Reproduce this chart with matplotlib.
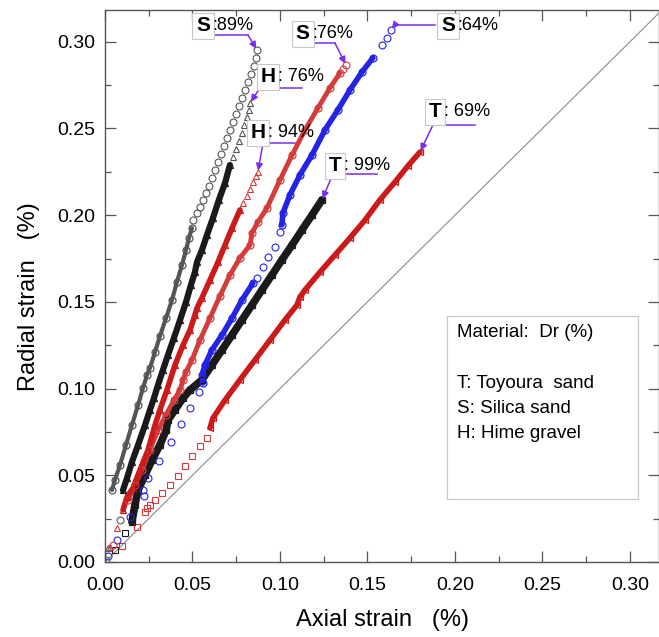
import numpy as np
import matplotlib
matplotlib.use('Agg')
from matplotlib import pyplot as plt
from matplotlib.patches import Rectangle

plt.rcParams['font.family'] = ['Liberation Sans', 'DejaVu Sans']

# ---- data (axial strain %, radial strain %) ----
# S: 89% (black circles)
s89_band_x = [0.0040, 0.0057, 0.0086, 0.0120, 0.0154, 0.0189, 0.0217, 0.0240, 0.0257, 0.0286,
              0.0314, 0.0349, 0.0383, 0.0411, 0.0440, 0.0463, 0.0480, 0.0497]
s89_band_y = [0.0415, 0.0473, 0.0559, 0.0675, 0.0790, 0.0905, 0.1003, 0.1078, 0.1119, 0.1211,
              0.1303, 0.1407, 0.1511, 0.1615, 0.1713, 0.1799, 0.1869, 0.1926]
s89_loose_x = [0.0006, 0.0086, 0.0503, 0.0526, 0.0543, 0.0560, 0.0577, 0.0594, 0.0611, 0.0629,
               0.0646, 0.0663, 0.0680, 0.0697, 0.0714, 0.0731, 0.0749, 0.0766, 0.0783, 0.0800,
               0.0817, 0.0834, 0.0851, 0.0863, 0.0869]
s89_loose_y = [0.0012, 0.0242, 0.1972, 0.2013, 0.2047, 0.2088, 0.2128, 0.2168, 0.2215, 0.2261,
               0.2307, 0.2353, 0.2399, 0.2445, 0.2491, 0.2537, 0.2584, 0.2630, 0.2676, 0.2722,
               0.2768, 0.2814, 0.2860, 0.2907, 0.2953]

# H: 76% (black triangles)
h76_band_x = [0.0103, 0.0126, 0.0154, 0.0189, 0.0229, 0.0257, 0.0280, 0.0303, 0.0331, 0.0360,
              0.0394, 0.0429, 0.0463, 0.0491, 0.0514, 0.0526, 0.0554, 0.0583, 0.0617, 0.0651,
              0.0686, 0.0714]
h76_band_y = [0.0415, 0.0484, 0.0577, 0.0675, 0.0790, 0.0877, 0.0946, 0.1021, 0.1107, 0.1194,
              0.1292, 0.1396, 0.1499, 0.1597, 0.1672, 0.1730, 0.1799, 0.1886, 0.1984, 0.2088,
              0.2186, 0.2289]
h76_loose_x = [0.0017, 0.0731, 0.0749, 0.0766, 0.0783, 0.0794, 0.0811, 0.0823, 0.0829]
h76_loose_y = [0.0081, 0.2336, 0.2382, 0.2428, 0.2474, 0.2520, 0.2566, 0.2607, 0.2647]

# H: 94% (red triangles)
h94_band_x = [0.0103, 0.0126, 0.0160, 0.0200, 0.0246, 0.0286, 0.0314, 0.0354, 0.0400, 0.0446,
              0.0486, 0.0514, 0.0526, 0.0554, 0.0600, 0.0646, 0.0686, 0.0726, 0.0771]
h94_band_y = [0.0300, 0.0375, 0.0427, 0.0531, 0.0646, 0.0790, 0.0877, 0.0992, 0.1136, 0.1251,
              0.1338, 0.1424, 0.1465, 0.1523, 0.1626, 0.1730, 0.1828, 0.1926, 0.2030]
h94_loose_x = [0.0029, 0.0069, 0.0789, 0.0811, 0.0829, 0.0846, 0.0863, 0.0874]
h94_loose_y = [0.0087, 0.0196, 0.2070, 0.2110, 0.2150, 0.2190, 0.2225, 0.2249]

# S: 76% (red circles)
s76_band_x = [0.0131, 0.0171, 0.0211, 0.0257, 0.0303, 0.0349, 0.0394, 0.0429, 0.0446, 0.0463,
              0.0497, 0.0543, 0.0600, 0.0657, 0.0714, 0.0771, 0.0829, 0.0840, 0.0874, 0.0926,
              0.1000, 0.1069, 0.1143, 0.1217, 0.1286, 0.1343]
s76_band_y = [0.0358, 0.0444, 0.0531, 0.0646, 0.0761, 0.0848, 0.0934, 0.0992, 0.1050, 0.1096,
              0.1165, 0.1280, 0.1407, 0.1534, 0.1655, 0.1753, 0.1828, 0.1897, 0.1961, 0.2042,
              0.2203, 0.2347, 0.2491, 0.2618, 0.2734, 0.2820]
s76_loose_x = [0.0046, 0.1360, 0.1377]
s76_loose_y = [0.0098, 0.2845, 0.2866]

# S: 64% (blue circles)
s64_band1_x = [0.0560, 0.0554, 0.0571, 0.0611, 0.0669, 0.0726, 0.0783, 0.0846]
s64_band1_y = [0.1032, 0.1078, 0.1136, 0.1223, 0.1309, 0.1407, 0.1511, 0.1609]
s64_band2_x = [0.1011, 0.1017, 0.1057, 0.1114, 0.1183, 0.1257, 0.1331, 0.1400, 0.1469, 0.1531]
s64_band2_y = [0.1944, 0.2013, 0.2117, 0.2232, 0.2347, 0.2491, 0.2607, 0.2722, 0.2826, 0.2907]
s64_loose_x = [0.0017, 0.0069, 0.0143, 0.0217, 0.0223, 0.0246, 0.0309, 0.0377, 0.0434, 0.0486,
               0.0537, 0.0869, 0.0903, 0.0931, 0.0971, 0.1000, 0.1583, 0.1611, 0.1634]
s64_loose_y = [0.0035, 0.0127, 0.0260, 0.0415, 0.0380, 0.0484, 0.0582, 0.0692, 0.0796, 0.0888,
               0.0980, 0.1638, 0.1701, 0.1759, 0.1817, 0.1903, 0.2982, 0.3022, 0.3068]

# T: 99% (black squares)
t99_band_x = [0.0154, 0.0171, 0.0189, 0.0229, 0.0269, 0.0314, 0.0349, 0.0360, 0.0400, 0.0446,
              0.0486, 0.0554, 0.0611, 0.0669, 0.0726, 0.0783, 0.0840, 0.0897, 0.0954, 0.1011,
              0.1069, 0.1126, 0.1183, 0.1240]
t99_band_y = [0.0231, 0.0329, 0.0415, 0.0502, 0.0588, 0.0675, 0.0761, 0.0819, 0.0877, 0.0946,
              0.0992, 0.1050, 0.1136, 0.1223, 0.1309, 0.1396, 0.1482, 0.1569, 0.1655, 0.1742,
              0.1828, 0.1915, 0.2001, 0.2088]
t99_loose_x = [0.0057, 0.0114]
t99_loose_y = [0.0069, 0.0167]

# T: 69% (red squares / left triangles)
t69_band_x = [0.0600, 0.0617, 0.0686, 0.0771, 0.0857, 0.0943, 0.1029, 0.1097, 0.1114, 0.1143,
              0.1229, 0.1314, 0.1400, 0.1486, 0.1571, 0.1657, 0.1731, 0.1800]
t69_band_y = [0.0773, 0.0830, 0.0934, 0.1050, 0.1165, 0.1280, 0.1396, 0.1482, 0.1528, 0.1569,
              0.1672, 0.1770, 0.1869, 0.1972, 0.2088, 0.2191, 0.2284, 0.2364]
t69_loose_x = [0.0097, 0.0183, 0.0229, 0.0240, 0.0257, 0.0286, 0.0326, 0.0371, 0.0417, 0.0457,
               0.0497, 0.0543, 0.0583]
t69_loose_y = [0.0092, 0.0202, 0.0288, 0.0310, 0.0329, 0.0358, 0.0398, 0.0444, 0.0496, 0.0554,
               0.0611, 0.0669, 0.0715]

x_ticks = [0.00, 0.05, 0.10, 0.15, 0.20, 0.25, 0.30]
y_ticks = [0.00, 0.05, 0.10, 0.15, 0.20, 0.25, 0.30]
legend_lines = ['Material:  Dr (%)', '', 'T: Toyoura  sand', 'S: Silica sand', 'H: Hime gravel']

fig = plt.figure(figsize=(6.59, 6.37), dpi=100)
ax = fig.add_axes([105/659, 75/637, 554/659, 552/637])

ax.plot([0, 0.33], [0, 0.33], color='#8a8a8a', lw=0.8, zorder=1)


def band(x, y, color, marker, lw=4.0, ms=5):
    ax.plot(x, y, color=color, lw=lw, solid_capstyle='round', zorder=2)
    ax.plot(x, y, ls='none', marker=marker, ms=ms, mfc='none', mec=color, mew=0.9, zorder=3)


def loose(x, y, color, marker, ms=5):
    ax.plot(x, y, ls='none', marker=marker, ms=ms, mfc='none', mec=color, mew=0.8, zorder=3)


black = '#1a1a1a'
grey = '#555555'
red = '#cc1a1a'
red2 = '#d43c3c'
blue = '#2424e6'

band(t69_band_x, t69_band_y, red, '<')
loose(t69_loose_x, t69_loose_y, red2, 's')
band(t99_band_x, t99_band_y, black, 's', lw=5.5)
loose(t99_loose_x, t99_loose_y, black, 's')
band(s64_band1_x, s64_band1_y, blue, 'o')
band(s64_band2_x, s64_band2_y, blue, 'o')
loose(s64_loose_x, s64_loose_y, blue, 'o')
band(s76_band_x, s76_band_y, red2, 'o', lw=3.5)
loose(s76_loose_x, s76_loose_y, red2, 'o')
band(h94_band_x, h94_band_y, red, '^')
loose(h94_loose_x, h94_loose_y, red2, '^')
band(h76_band_x, h76_band_y, black, '^', lw=4.5)
loose(h76_loose_x, h76_loose_y, grey, '^')
band(s89_band_x, s89_band_y, grey, 'o', lw=3.0)
loose(s89_loose_x, s89_loose_y, grey, 'o')

# labels: letter, text, letter pos, underline x-range, underline y, arrow start x, tip
purple = '#7a2cf0'
labels = [
    ('S', ':89%', (0.0560, 0.3091), (0.0629, 0.0817), 0.3039, 0.0817, (s89_loose_x[-1], s89_loose_y[-1])),
    ('S', ':76%', (0.1131, 0.3045), (0.1189, 0.1314), 0.2993, 0.1314, (s76_loose_x[-1], s76_loose_y[-1])),
    ('H', ': 76%', (0.0931, 0.2797), (0.0886, 0.1126), 0.2734, 0.0886, (h76_loose_x[-1], h76_loose_y[-1])),
    ('H', ': 94%', (0.0874, 0.2474), (0.0914, 0.1086), 0.2416, 0.0903, (h94_loose_x[-1], h94_loose_y[-1])),
    ('T', ': 99%', (0.1314, 0.2284), (0.1360, 0.1554), 0.2238, 0.1303, (t99_band_x[-1], t99_band_y[-1])),
    ('S', ':64%', (0.1960, 0.3091), (0.1657, 0.1886), 0.3097, 0.1657, (s64_loose_x[-1], s64_loose_y[-1])),
    ('T', ': 69%', (0.1886, 0.2595), (0.1874, 0.2114), 0.2520, 0.1874, (t69_band_x[-1], t69_band_y[-1])),
]
for letter, txt, lpos, (u0, u1), uy, sx, tip in labels:
    t = ax.text(lpos[0], lpos[1], letter, fontsize=15, fontweight='bold', ha='center', va='center',
                zorder=6, bbox=dict(boxstyle='square,pad=0.18', fc='white', ec='#c8c8c8', lw=0.8))
    ax.annotate(txt, xy=(1, 0.5), xycoords=t, xytext=(2, 0), textcoords='offset points',
                fontsize=13, ha='left', va='center', zorder=6)
    ax.plot([u0, u1], [uy, uy], color=purple, lw=1.1, zorder=5)
    ax.annotate('', xy=tip, xytext=(sx, uy), zorder=5,
                arrowprops=dict(arrowstyle='-|>', color=purple, lw=1.1, mutation_scale=10,
                                shrinkA=0, shrinkB=1))

# material box
ax.add_patch(Rectangle((0.617, 0.114), 0.345, 0.332, transform=ax.transAxes,
                       fc='white', ec='#c8c8c8', lw=0.9, zorder=6))
for i, line in enumerate(legend_lines):
    ax.text(0.635, 0.415 - i * 0.0455, line, transform=ax.transAxes, fontsize=13.5,
            ha='left', va='center', zorder=7)

ax.set_xlim(0, 0.3166)
ax.set_ylim(0, 0.3183)
ax.set_xticks(x_ticks)
ax.set_yticks(y_ticks)
ax.set_xticklabels(['%.2f' % v for v in x_ticks])
ax.set_yticklabels(['%.2f' % v for v in y_ticks])
ax.set_xticks(np.arange(0.025, 0.32, 0.05), minor=True)
ax.set_yticks(np.arange(0.025, 0.32, 0.05), minor=True)
ax.tick_params(which='both', direction='in', top=True, right=True, colors='#555555',
               labelcolor='black', labelsize=14)
ax.tick_params(which='major', length=8, width=0.9)
ax.tick_params(which='minor', length=4, width=0.9)
ax.tick_params(axis='x', pad=11)
ax.tick_params(axis='y', pad=7)
for s in ax.spines.values():
    s.set_color('#555555')
    s.set_linewidth(1.0)

ax.set_xlabel('Axial strain   (%)', fontsize=17)
ax.set_ylabel('Radial strain   (%)', fontsize=17)
ax.xaxis.set_label_coords(0.5, -0.085)
ax.yaxis.set_label_coords(-0.118, 0.48)

fig.savefig('out.png', dpi=100)
